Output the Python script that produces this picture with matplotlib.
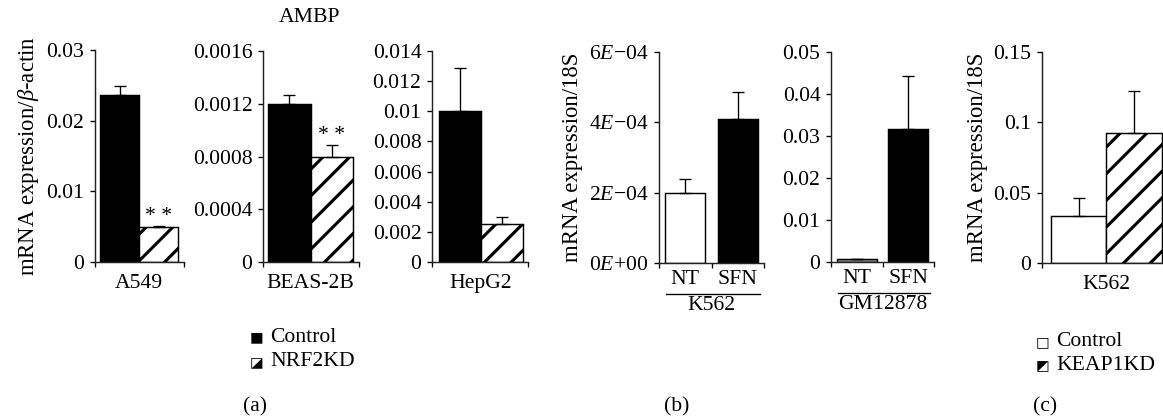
import matplotlib
matplotlib.use("Agg")
import matplotlib.pyplot as plt

# ---- data ----
# (a) AMBP, NRF2 knockdown
cells_a = ["A549", "BEAS-2B", "HepG2"]
control_a = [0.0236, 0.00120, 0.0100]
control_a_err = [0.0013, 0.00007, 0.0029]
nrf2kd_a = [0.0050, 0.00080, 0.0025]
nrf2kd_a_err = [0.0001, 0.00009, 0.0005]
stars_a = ["**", "**", ""]
yticks_a = [
    [0, 0.01, 0.02, 0.03],
    [0, 0.0004, 0.0008, 0.0012, 0.0016],
    [0, 0.002, 0.004, 0.006, 0.008, 0.01, 0.012, 0.014],
]
yticklabels_a = [
    ["0", "0.01", "0.02", "0.03"],
    ["0", "0.0004", "0.0008", "0.0012", "0.0016"],
    ["0", "0.002", "0.004", "0.006", "0.008", "0.01", "0.012", "0.014"],
]

# (b) sulforaphane treatment
treat_b = ["NT", "SFN"]
cells_b = ["K562", "GM12878"]
values_b = [[2.0e-4, 4.1e-4], [0.0006, 0.0317]]
errors_b = [[0.39e-4, 0.76e-4], [0.0002, 0.0126]]
colors_b = [["white", "black"], ["#8c8c8c", "black"]]
yticks_b = [[0, 2e-4, 4e-4, 6e-4], [0, 0.01, 0.02, 0.03, 0.04, 0.05]]
yticklabels_b = [
    ["0$\\mathit{E}$+00", "2$\\mathit{E}$\u221204", "4$\\mathit{E}$\u221204", "6$\\mathit{E}$\u221204"],
    ["0", "0.01", "0.02", "0.03", "0.04", "0.05"],
]

# (c) KEAP1 knockdown
cell_c = "K562"
control_c = 0.0334
control_c_err = 0.0128
keap1kd_c = 0.0924
keap1kd_c_err = 0.0299
yticks_c = [0, 0.05, 0.1, 0.15]
yticklabels_c = ["0", "0.05", "0.1", "0.15"]

# ---- style ----
W, H, DPI = 1163, 420, 80
FS = 19.5
plt.rcParams["font.family"] = ["Liberation Serif", "DejaVu Serif"]
plt.rcParams["mathtext.fontset"] = "custom"
plt.rcParams["mathtext.rm"] = "Liberation Serif"
plt.rcParams["mathtext.it"] = "Liberation Serif:italic"
plt.rcParams["hatch.linewidth"] = 2.8
plt.rcParams["font.size"] = FS

fig = plt.figure(figsize=(W / DPI, H / DPI), dpi=DPI)


def px_axes(left, right, top, bottom):
    """Add axes from pixel box (origin top-left)."""
    return fig.add_axes([left / W, 1 - bottom / H, (right - left) / W, (bottom - top) / H])


def style_axes(ax, yticks, ylabels, ymax):
    for side in ("top", "right"):
        ax.spines[side].set_visible(False)
    for side in ("left", "bottom"):
        ax.spines[side].set_linewidth(1.3)
        ax.spines[side].set_color("#222222")
    ax.set_ylim(0, ymax)
    ax.set_yticks(yticks, ylabels)
    ax.tick_params(axis="y", direction="out", length=4.5, width=1.2, labelsize=FS, pad=5)
    ax.tick_params(axis="x", which="major", direction="out", length=4.5, width=1.2, labelbottom=False)


def fig_text(x, y, s, **kw):
    fig.text(x / W, 1 - y / H, s, ha=kw.pop("ha", "center"), va=kw.pop("va", "center"), **kw)


# ---- (a) ----
boxes_a = [(95, 184, 50, 262), (263, 359, 51, 262), (432, 528, 51, 262)]
xlims_a = [(-0.13, 2.15), (-0.12, 2.14), (-0.16, 2.12)]
for i, cell in enumerate(cells_a):
    ax = px_axes(*boxes_a[i])
    ax.bar([0, 1], [control_a[i], nrf2kd_a[i]], width=1, align="edge",
           color=["black", "white"], edgecolor="black", linewidth=1.3,
           hatch=["", "/"], zorder=2)
    ax.errorbar([0.5, 1.5], [control_a[i], nrf2kd_a[i]],
                yerr=[[0, 0], [control_a_err[i], nrf2kd_a_err[i]]],
                fmt="none", ecolor="black", elinewidth=1.2, capsize=5, capthick=1.2, zorder=3)
    if stars_a[i]:
        ax.text(1.5, nrf2kd_a[i] + nrf2kd_a_err[i], "* *", ha="center", va="bottom", fontsize=FS)
    style_axes(ax, yticks_a[i], yticklabels_a[i], yticks_a[i][-1])
    ax.set_xlim(*xlims_a[i])
    ax.set_xticks(list(xlims_a[i]))
    ax.set_xticks([1.0], [cell], minor=True)
    ax.tick_params(axis="x", which="minor", length=0, labelsize=FS, pad=11)
    if i == 0:
        ax.set_ylabel("mRNA expression/$\\beta$-actin", fontsize=20.5, labelpad=5)

fig_text(310, 18, "AMBP", fontsize=FS)

# ---- (b) ----
boxes_b = [(659, 764, 52, 263), (831, 934, 52, 262)]
for i, cell in enumerate(cells_b):
    ax = px_axes(*boxes_b[i])
    ax.bar([0, 1], values_b[i], width=0.77, color=colors_b[i],
           edgecolor="black", linewidth=1.3, zorder=2)
    ax.errorbar([0, 1], values_b[i], yerr=[[0, 0], errors_b[i]],
                fmt="none", ecolor="black", elinewidth=1.2, capsize=5, capthick=1.2, zorder=3)
    style_axes(ax, yticks_b[i], yticklabels_b[i], yticks_b[i][-1])
    ax.set_xlim(-0.5, 1.5)
    ax.set_xticks([-0.5, 0.5, 1.5])
    ax.set_xticks([0, 1], treat_b, minor=True)
    ax.tick_params(axis="x", which="minor", length=0, labelsize=FS, pad=6)
    tr = ax.get_xaxis_transform()
    ax.plot([-0.37, 1.42], [-0.148, -0.148], color="black", lw=1.2,
            transform=tr, clip_on=False)
    ax.text(0.5, -0.158, cell, transform=tr, ha="center", va="top", fontsize=FS)
    if i == 0:
        ax.set_ylabel("mRNA expression/18S", fontsize=20.5, labelpad=5)

# ---- (c) ----
ax = px_axes(1042, 1163, 52, 263)
ax.bar([0, 1], [control_c, keap1kd_c], width=1, align="edge",
       color=["white", "white"], edgecolor="black", linewidth=1.3,
       hatch=["", "/"], zorder=2)
ax.errorbar([0.5, 1.5], [control_c, keap1kd_c], yerr=[[0, 0], [control_c_err, keap1kd_c_err]],
            fmt="none", ecolor="black", elinewidth=1.2, capsize=5, capthick=1.2, zorder=3)
style_axes(ax, yticks_c, yticklabels_c, yticks_c[-1])
ax.set_xlim(-0.16, 2.02)
ax.set_xticks([-0.16])
ax.set_xticks([1.0], [cell_c], minor=True)
ax.tick_params(axis="x", which="minor", length=0, labelsize=FS, pad=11)
ax.set_ylabel("mRNA expression/18S", fontsize=20.5, labelpad=5)

# ---- legends and panel letters ----
sym = ["DejaVu Sans"]
fig_text(257, 337, "\u25A0", fontsize=13, family=sym)
fig_text(270, 337, "Control", ha="left", fontsize=FS)
fig_text(257, 362, "\u25EA", fontsize=13, family=sym)
fig_text(270, 362, "NRF2KD", ha="left", fontsize=FS)

fig_text(1043, 342, "\u25A1", fontsize=13, family=sym)
fig_text(1056, 342, "Control", ha="left", fontsize=FS)
fig_text(1043, 366, "\u25E9", fontsize=13, family=sym)
fig_text(1056, 366, "KEAP1KD", ha="left", fontsize=FS)

fig_text(255, 407, "(a)", fontsize=FS)
fig_text(677, 407, "(b)", fontsize=FS)
fig_text(1045, 407, "(c)", fontsize=FS)

fig.savefig("out.png", dpi=DPI)
